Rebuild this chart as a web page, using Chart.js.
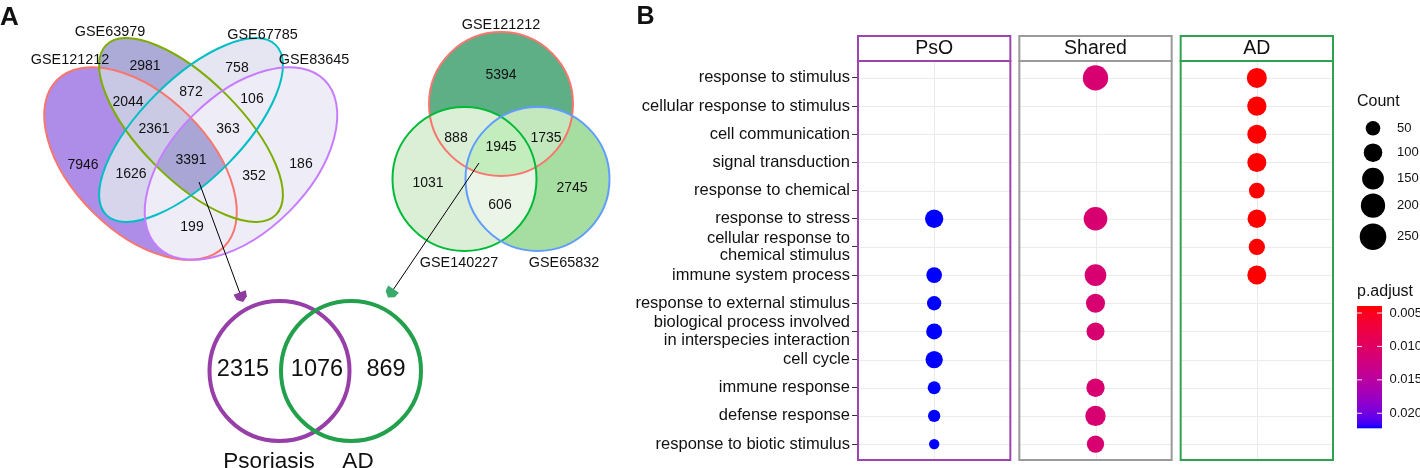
<!DOCTYPE html>
<html><head><meta charset="utf-8">
<script src="https://cdn.jsdelivr.net/npm/chart.js@4/dist/chart.umd.min.js"></script>
<style>
html,body{margin:0;padding:0;background:#fff;}
#wrap{position:relative;width:1420px;height:468px;overflow:hidden;background:#fff;}
#cA{position:absolute;left:0;top:0;}
#cB{position:absolute;left:620px;top:0;}
</style></head><body>
<div id="wrap">
<canvas id="cA" width="620" height="468"></canvas>
<canvas id="cB" width="800" height="468"></canvas>
</div>
<script>
// ================= DATA =================
// Panel A – four-set Venn (psoriasis datasets)
const quadSets = ['GSE121212', 'GSE63979', 'GSE67785', 'GSE83645'];
const quadRegions = [[1,0,0,0],[0,1,0,0],[0,0,1,0],[0,0,0,1],[1,1,0,0],[0,1,1,0],[0,0,1,1],[1,1,1,0],[0,1,1,1],[1,1,1,1],[1,0,1,0],[0,1,0,1],[1,0,0,1]];
const quadCounts = [7946, 2981, 758, 186, 2044, 872, 106, 2361, 363, 3391, 1626, 352, 199];

// Panel A – three-set Venn (AD datasets)
const triSets = ['GSE121212', 'GSE140227', 'GSE65832'];
const triRegions = [[1,0,0],[0,1,0],[0,0,1],[1,1,0],[1,0,1],[0,1,1],[1,1,1]];
const triCounts = [5394, 1031, 2745, 888, 1735, 606, 1945];

// Panel A – two-set Venn
const duoSets = ['Psoriasis', 'AD'];
const duoCounts = [2315, 1076, 869];   // only Psoriasis, shared, only AD

// Panel B – GO dot plot
const terms = [
  'response to stimulus', 'cellular response to stimulus', 'cell communication',
  'signal transduction', 'response to chemical', 'response to stress',
  'cellular response to chemical stimulus', 'immune system process',
  'response to external stimulus', 'biological process involved in interspecies interaction',
  'cell cycle', 'immune response', 'defense response', 'response to biotic stimulus'
];
const facets = ['PsO', 'Shared', 'AD'];
const psoCount    = [null, null, null, null, null, 96, null, 62, 47, 65, 82, 35, 29, 16];
const psoPadj     = [null, null, null, null, null, 0.02225, null, 0.02225, 0.02225, 0.02225, 0.02225, 0.02225, 0.02225, 0.02225];
const sharedCount = [222, null, null, null, null, 187, null, 149, 106, 91, null, 96, 127, 82];
const sharedPadj  = [0.0111, null, null, null, null, 0.0111, null, 0.0111, 0.0111, 0.0111, null, 0.0111, 0.0111, 0.0111];
const adCount     = [121, 111, 106, 106, 62, 100, 69, 106, null, null, null, null, null, null];
const adPadj      = [0.00395, 0.00395, 0.00395, 0.00395, 0.00395, 0.00395, 0.00395, 0.00395, null, null, null, null, null, null];
const countBreaks = [50, 100, 150, 200, 250];
const padjBreaks  = [0.005, 0.010, 0.015, 0.020];

// ================= STYLE / LAYOUT =================
const FONT = "'Liberation Sans', Arial, sans-serif";
const TXT = '#111111';
const quadShapes = [
  {cx: 140.5, cy: 163.5, a: 118, b: 68, rot: 45,  stroke: '#F8766D'},
  {cx: 191,   cy: 130,   a: 120, b: 50, rot: 45,  stroke: '#7CAE00'},
  {cx: 191,   cy: 130,   a: 120, b: 50, rot: -45, stroke: '#00BFC4'},
  {cx: 241,   cy: 163.5, a: 118, b: 68, rot: -45, stroke: '#C77CFF'}
];
const quadBase = '#EEEDF7';
const quadFill = ['#AE8DE8','#ACAAD7','#E6E5F2','#EEEDF7','#C9C8E4','#E2E1F0','#EEEDF7','#CBCAE5','#EEEDF7','#A9A6D5','#D6D5EB','#EEEDF7','#EEEDF7'];
const quadLabelPos = [[83,165],[145,66],[237,68],[301,164],[128,102],[191,92],[252,99],[154,129],[228,129],[191,160],[131,174],[254,176],[192,227]];
const quadSetPos = [[70,60],[110,32],[262.5,35.5],[314,60]];

const triShapes = [
  {cx: 501,   cy: 104, a: 72, b: 72, rot: 0, stroke: '#F8766D'},
  {cx: 464.5, cy: 179, a: 72, b: 72, rot: 0, stroke: '#00BA38'},
  {cx: 537.5, cy: 179, a: 72, b: 72, rot: 0, stroke: '#619CFF'}
];
const triFill = ['#5EAE86','#DAEFD6','#A6DEA1','#DBEFD7','#C3E8BD','#EAF5E7','#C4EDBD'];
const triLabelPos = [[501,75],[428,183],[572,188],[456,138],[546,138],[500,205],[501,147]];
const triSetPos = [[501,25],[459,263.5],[564,263.5]];

const duoShapes = [
  {cx: 279.5, cy: 371, r: 70, stroke: '#983EA8'},
  {cx: 351,   cy: 371, r: 70, stroke: '#22A04C'}
];
const duoLabelPos = [[243,369.5],[317,369.5],[386,369.5]];
const duoSetPos = [[269,468],[358,468]];

const arrows = [
  {from: [199,182], to: [240,293.5], color: '#8E3A9F'},
  {from: [479,163], to: [393,290],   color: '#3AAA6C'}
];

const facetColors = ['#9B45AF', '#9A9A9A', '#2EA24E'];

// ================= HELPERS =================
function shapePath(ctx, x, y, s) {
  const cx = x.getPixelForValue(s.cx), cy = y.getPixelForValue(s.cy);
  const a = x.getPixelForValue(s.cx + s.a) - cx, b = x.getPixelForValue(s.cx + s.b) - cx;
  const th = s.rot * Math.PI / 180;
  ctx.moveTo(cx + a * Math.cos(th), cy + a * Math.sin(th));
  ctx.ellipse(cx, cy, a, b, th, 0, 2 * Math.PI);
}
function fillRegion(ctx, x, y, shapes, mask, color, W, H) {
  ctx.save();
  shapes.forEach((s, i) => {
    ctx.beginPath();
    if (mask[i]) { shapePath(ctx, x, y, s); ctx.clip(); }
    else { ctx.rect(-10, -10, W + 20, H + 20); shapePath(ctx, x, y, s); ctx.clip('evenodd'); }
  });
  ctx.fillStyle = color;
  ctx.fillRect(0, 0, W, H);
  ctx.restore();
}
function sizeScale(c) { return 2.45 + 0.686 * Math.sqrt(c); }

function srgbToLin(c) { c /= 255; return c <= 0.04045 ? c / 12.92 : Math.pow((c + 0.055) / 1.055, 2.4); }
function linToSrgb(c) { c = c <= 0.0031308 ? 12.92 * c : 1.055 * Math.pow(Math.max(c, 0), 1 / 2.4) - 0.055; return Math.round(Math.max(0, Math.min(1, c)) * 255); }
function rgb2lab(rgb) {
  const R = srgbToLin(rgb[0]), G = srgbToLin(rgb[1]), B = srgbToLin(rgb[2]);
  const X = (0.4124 * R + 0.3576 * G + 0.1805 * B) / 0.95047;
  const Y = 0.2126 * R + 0.7152 * G + 0.0722 * B;
  const Z = (0.0193 * R + 0.1192 * G + 0.9505 * B) / 1.08883;
  const f = t => t > 0.008856 ? Math.cbrt(t) : 7.787 * t + 16 / 116;
  const fx = f(X), fy = f(Y), fz = f(Z);
  return [116 * fy - 16, 500 * (fx - fy), 200 * (fy - fz)];
}
function lab2rgb(l) {
  const fy = (l[0] + 16) / 116, fx = fy + l[1] / 500, fz = fy - l[2] / 200;
  const fi = t => t > 0.206893 ? t * t * t : (t - 16 / 116) / 7.787;
  const X = fi(fx) * 0.95047, Y = fi(fy), Z = fi(fz) * 1.08883;
  const R = 3.2406 * X - 1.5372 * Y - 0.4986 * Z;
  const G = -0.9689 * X + 1.8758 * Y + 0.0415 * Z;
  const B = 0.0557 * X - 0.2040 * Y + 1.0570 * Z;
  return 'rgb(' + linToSrgb(R) + ',' + linToSrgb(G) + ',' + linToSrgb(B) + ')';
}
const LOW = rgb2lab([255, 0, 0]), HIGH = rgb2lab([0, 0, 255]);
const allPadj = [].concat(psoPadj, sharedPadj, adPadj).filter(v => v != null);
const pMin = Math.min(...allPadj), pMax = Math.max(...allPadj);
function colorAt(t) { return lab2rgb([0,1,2].map(i => LOW[i] + (HIGH[i] - LOW[i]) * t)); }
function colorScale(p) { return colorAt((p - pMin) / (pMax - pMin)); }

function wrapLabel(s, maxLen) {
  if (s.length <= maxLen) return s;
  const mid = s.length / 2; let best = -1, bd = 1e9;
  for (let i = 0; i < s.length; i++) if (s[i] === ' ' && Math.abs(i - mid) < bd) { bd = Math.abs(i - mid); best = i; }
  return [s.slice(0, best), s.slice(best + 1)];
}
function txt(ctx, s, x, y, size, align, base, weight) {
  ctx.font = (weight || '') + ' ' + size + 'px ' + FONT;
  ctx.fillStyle = TXT; ctx.textAlign = align || 'center'; ctx.textBaseline = base || 'middle';
  ctx.fillText(s, x, y);
}

// ================= PANEL A =================
const vennPlugin = {
  id: 'venn',
  afterDraw(chart) {
    const {ctx, scales: {x, y}} = chart;
    const W = chart.width, H = chart.height;
    const P = (pt) => [x.getPixelForValue(pt[0]), y.getPixelForValue(pt[1])];
    ctx.save();
    // four-set
    quadShapes.forEach(s => { ctx.beginPath(); shapePath(ctx, x, y, s); ctx.fillStyle = quadBase; ctx.fill(); });
    quadRegions.forEach((m, i) => fillRegion(ctx, x, y, quadShapes, m, quadFill[i], W, H));
    quadShapes.forEach(s => { ctx.beginPath(); shapePath(ctx, x, y, s); ctx.strokeStyle = s.stroke; ctx.lineWidth = 2; ctx.stroke(); });
    quadCounts.forEach((c, i) => { const p = P(quadLabelPos[i]); txt(ctx, String(c), p[0], p[1], 14); });
    quadSets.forEach((s, i) => { const p = P(quadSetPos[i]); txt(ctx, s, p[0], p[1], 14.4); });
    // three-set
    triRegions.forEach((m, i) => fillRegion(ctx, x, y, triShapes, m, triFill[i], W, H));
    triShapes.forEach(s => { ctx.beginPath(); shapePath(ctx, x, y, s); ctx.strokeStyle = s.stroke; ctx.lineWidth = 2; ctx.stroke(); });
    triCounts.forEach((c, i) => { const p = P(triLabelPos[i]); txt(ctx, String(c), p[0], p[1], 14); });
    triSets.forEach((s, i) => { const p = P(triSetPos[i]); txt(ctx, s, p[0], p[1], 14.4); });
    // two-set
    duoShapes.forEach(s => {
      ctx.beginPath(); shapePath(ctx, x, y, {cx: s.cx, cy: s.cy, a: s.r, b: s.r, rot: 0});
      ctx.strokeStyle = s.stroke; ctx.lineWidth = 4; ctx.stroke();
    });
    duoCounts.forEach((c, i) => { const p = P(duoLabelPos[i]); txt(ctx, String(c), p[0], p[1], 23.5); });
    duoSets.forEach((s, i) => { const p = P(duoSetPos[i]); txt(ctx, s, p[0], p[1], 22.5, 'center', 'alphabetic'); });
    // arrows
    arrows.forEach(a => {
      const f = P(a.from), t = P(a.to);
      ctx.beginPath(); ctx.moveTo(f[0], f[1]); ctx.lineTo(t[0], t[1]);
      ctx.strokeStyle = '#000'; ctx.lineWidth = 1; ctx.stroke();
      const L = Math.hypot(t[0] - f[0], t[1] - f[1]);
      const d = [(t[0] - f[0]) / L, (t[1] - f[1]) / L], n = [-d[1], d[0]];
      const pt = (u, v) => [t[0] + d[0] * u + n[0] * v, t[1] + d[1] * u + n[1] * v];
      const poly = [pt(-1, 6.5), pt(5, 5.5), pt(9, 0), pt(5, -5.5), pt(-1, -6.5)];
      ctx.beginPath(); poly.forEach((q, k) => k ? ctx.lineTo(q[0], q[1]) : ctx.moveTo(q[0], q[1])); ctx.closePath();
      ctx.fillStyle = a.color; ctx.fill();
    });
    txt(ctx, 'A', 0, 25, 26, 'left', 'alphabetic', 'bold');
    ctx.restore();
  }
};

new Chart(document.getElementById('cA'), {
  type: 'scatter',
  data: {datasets: []},
  options: {
    responsive: false, animation: false, events: [],
    layout: {padding: 0, autoPadding: false},
    plugins: {legend: {display: false}, tooltip: {enabled: false}},
    scales: {
      x: {type: 'linear', min: 0, max: 620, display: false},
      y: {type: 'linear', min: 0, max: 468, reverse: true, display: false}
    }
  },
  plugins: [vennPlugin]
});

// ================= PANEL B =================
const GAP = 7;
const panelPlugin = {
  id: 'facets',
  beforeDatasetsDraw(chart) {
    const {ctx, chartArea: ca, scales: {x, y}} = chart;
    const w = x.getPixelForValue(1) - x.getPixelForValue(0) - GAP;
    ctx.save();
    facets.forEach((f, k) => {
      const c = x.getPixelForValue(k), L = c - w / 2, R = c + w / 2;
      ctx.fillStyle = '#fff'; ctx.fillRect(L, ca.top, w, ca.bottom - ca.top);
      ctx.strokeStyle = '#EBEBEB'; ctx.lineWidth = 1;
      terms.forEach((t, i) => {
        const yy = Math.round(y.getPixelForValue(i)) + 0.5;
        ctx.beginPath(); ctx.moveTo(L, yy); ctx.lineTo(R, yy); ctx.stroke();
      });
      const xx = Math.round(c) + 0.5;
      ctx.beginPath(); ctx.moveTo(xx, ca.top); ctx.lineTo(xx, ca.bottom); ctx.stroke();
    });
    ctx.restore();
  },
  afterDatasetsDraw(chart) {
    const {ctx, chartArea: ca, scales: {x}} = chart;
    const w = x.getPixelForValue(1) - x.getPixelForValue(0) - GAP;
    ctx.save();
    facets.forEach((f, k) => {
      const c = x.getPixelForValue(k), L = c - w / 2;
      ctx.strokeStyle = facetColors[k]; ctx.lineWidth = 2;
      ctx.strokeRect(L + 1, ca.top, w - 2, ca.bottom - ca.top - 1);
      ctx.strokeRect(L + 1, 36, w - 2, ca.top - 36);
      txt(ctx, f, c, 48.5, 19.5);
    });
    ctx.restore();
  },
  afterDraw(chart) {
    const ctx = chart.ctx;
    ctx.save();
    txt(ctx, 'B', 16.5, 24, 25, 'left', 'alphabetic', 'bold');
    // Count legend
    txt(ctx, 'Count', 737, 102, 16, 'left');
    const cy = [128.3, 152.7, 178.7, 205.7, 236.7];
    countBreaks.forEach((b, i) => {
      ctx.beginPath(); ctx.arc(753, cy[i], sizeScale(b), 0, 2 * Math.PI); ctx.fillStyle = '#000'; ctx.fill();
      txt(ctx, String(b), 777, cy[i], 13, 'left');
    });
    // p.adjust colour bar
    txt(ctx, 'p.adjust', 737, 296, 16, 'left', 'alphabetic');
    const bx = 737, bw = 25, by = 306, bh = 122.3;
    const g = ctx.createLinearGradient(0, by, 0, by + bh);
    for (let i = 0; i <= 30; i++) g.addColorStop(i / 30, colorAt(i / 30));
    ctx.fillStyle = g; ctx.fillRect(bx, by, bw, bh);
    padjBreaks.forEach(b => {
      const yy = by + (b - pMin) / (pMax - pMin) * bh;
      ctx.strokeStyle = 'rgba(255,255,255,0.9)'; ctx.lineWidth = 1;
      ctx.beginPath(); ctx.moveTo(bx, yy); ctx.lineTo(bx + 5, yy); ctx.moveTo(bx + bw - 5, yy); ctx.lineTo(bx + bw, yy); ctx.stroke();
      txt(ctx, b.toFixed(3), 769.5, yy, 13, 'left');
    });
    ctx.restore();
  }
};

function makeDs(k, counts, padj) {
  const pts = [], cols = [];
  counts.forEach((c, i) => {
    if (c == null) return;
    pts.push({x: k, y: i, r: sizeScale(c)});
    cols.push(colorScale(padj[i]));
  });
  return {data: pts, backgroundColor: cols, borderWidth: 0, hoverRadius: 0, hoverBorderWidth: 0};
}

new Chart(document.getElementById('cB'), {
  type: 'bubble',
  data: {datasets: [makeDs(0, psoCount, psoPadj), makeDs(1, sharedCount, sharedPadj), makeDs(2, adCount, adPadj)]},
  options: {
    responsive: false, animation: false, events: [],
    layout: {padding: {top: 61, bottom: 7, right: 86, left: 0}, autoPadding: false},
    plugins: {legend: {display: false}, tooltip: {enabled: false}},
    scales: {
      x: {type: 'linear', min: -0.4783, max: 2.4783, display: false},
      y: {
        type: 'linear', min: -0.6, max: 13.6, reverse: true,
        afterBuildTicks: (s) => { s.ticks = terms.map((t, i) => ({value: i})); },
        afterFit: (s) => { s.width = 237; s.paddingTop = 0; s.paddingBottom = 0; },
        grid: {drawOnChartArea: false, drawTicks: true, tickLength: 5, color: '#333333', lineWidth: 1},
        border: {display: false},
        ticks: {
          autoSkip: false, padding: 2, color: TXT,
          font: {family: FONT, size: 16.5, lineHeight: 1.05},
          callback: (v) => wrapLabel(terms[v], 30)
        }
      }
    }
  },
  plugins: [panelPlugin]
});
</script>
</body></html>
